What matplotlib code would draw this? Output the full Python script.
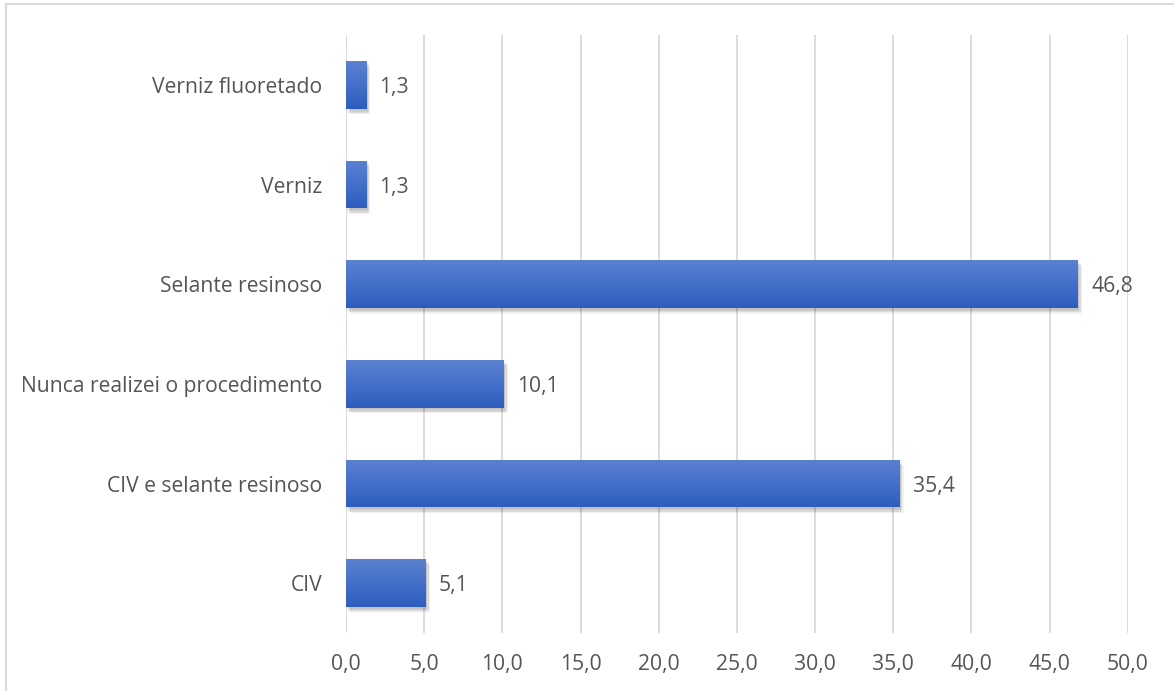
import matplotlib.pyplot as plt
import matplotlib.patheffects as pe
import numpy as np
from matplotlib.colors import LinearSegmentedColormap
from matplotlib.lines import Line2D

categories = ["CIV", "CIV e selante resinoso", "Nunca realizei o procedimento",
              "Selante resinoso", "Verniz", "Verniz fluoretado"]
values = [5.1, 35.4, 10.1, 46.8, 1.3, 1.3]
xticks = np.arange(0, 50.1, 5)

plt.rcParams['font.family'] = ['Open Sans', 'DejaVu Sans']
text_color = "#555555"
fs = 15.2

fig = plt.figure(figsize=(11.74, 6.91), dpi=100)
ax = fig.add_axes([0.2947, 0.0839, 0.666, 0.8654])

# soft drop shadow built from a few faint offset copies
shadow = [pe.SimplePatchShadow(offset=(dx, -dy), shadow_rgbFace="#000000", alpha=0.05)
          for dx, dy in [(1, 1), (2, 2), (2, 3), (3, 4), (1, 3)]]

y = np.arange(len(categories))
bar_h = 0.48
bars = ax.barh(y, values, height=bar_h, color="#4472C4", zorder=3,
               path_effects=shadow + [pe.Normal()])

# vertical gradient fill inside every bar
grad = LinearSegmentedColormap.from_list("bar", ["#2E5DBD", "#4470CA", "#5B81D0"])
for b in bars:
    x0, y0 = b.get_x(), b.get_y()
    w, h = b.get_width(), b.get_height()
    im = ax.imshow(np.linspace(0, 1, 64).reshape(-1, 1), cmap=grad, aspect="auto",
                   extent=[x0, x0 + w, y0, y0 + h], origin="lower", zorder=4)
    im.set_clip_path(b)

for yi, v in zip(y, values):
    ax.text(v + 0.85, yi, f"{v:.1f}".replace(".", ","), va="center_baseline", ha="left",
            fontsize=fs, color=text_color, zorder=5)

ax.set_xlim(0, 50)
ax.set_ylim(-0.5, len(categories) - 0.5)
ax.set_xticks(xticks)
ax.set_xticklabels([f"{t:.1f}".replace(".", ",") for t in xticks])
ax.set_yticks(y)
ax.set_yticklabels(categories, va="center_baseline")
ax.tick_params(axis="both", length=0, labelsize=fs, labelcolor=text_color)
ax.tick_params(axis="x", pad=15)
ax.tick_params(axis="y", pad=17)
ax.grid(axis="x", color="#D9D9D9", linewidth=1.3, zorder=0)
ax.set_axisbelow(True)
for s in ax.spines.values():
    s.set_visible(False)

# outer chart frame (top and left edges)
fig.add_artist(Line2D([0.0051, 0.0051], [0, 0.9935], transform=fig.transFigure,
                      color="#D9D9D9", linewidth=1.5))
fig.add_artist(Line2D([0.0051, 1], [0.9935, 0.9935], transform=fig.transFigure,
                      color="#D9D9D9", linewidth=1.5))

fig.savefig("out.png", dpi=100)
